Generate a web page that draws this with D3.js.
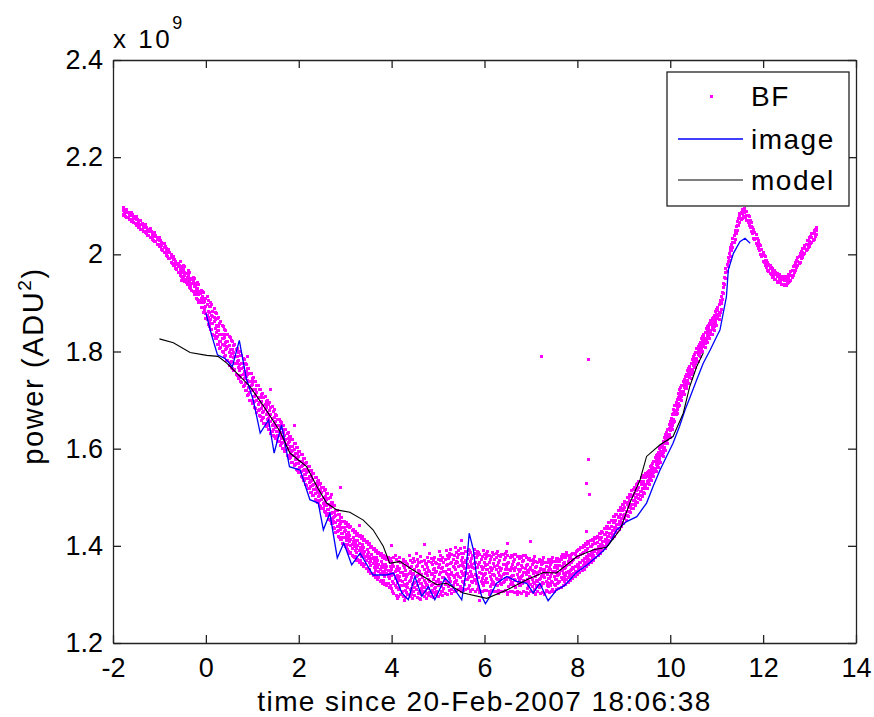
<!DOCTYPE html>
<html>
<head>
<meta charset="utf-8">
<script src="https://cdn.jsdelivr.net/npm/d3@7"></script>
<style>
  body { margin: 0; background: #fff; }
  svg { display: block; font-family: "Liberation Sans", Arial, Helvetica, sans-serif; }
  .axis text { font-size: 27px; fill: #000; }
  .axis path, .axis line { stroke: #222; stroke-width: 1.3; }
</style>
</head>
<body>
<svg width="874" height="717"></svg>
<script>
// power values are in units of 1e9 ADU^2, time in hours

var xTicks = [-2, 0, 2, 4, 6, 8, 10, 12, 14];
var yTicks = [1.2, 1.4, 1.6, 1.8, 2, 2.2, 2.4];
var yTickLabels = ["1.2", "1.4", "1.6", "1.8", "2", "2.2", "2.4"];
var legendNames = ["BF", "image", "model"];

// BF: each row is [time, power, power, ...]
var bfRows = [
  [-1.78, 2.080, 2.090, 2.097], [-1.75, 2.093, 2.083, 2.088], [-1.70, 2.075, 2.086, 2.092],
  [-1.65, 2.084, 2.071, 2.079], [-1.60, 2.068, 2.080, 2.086], [-1.55, 2.078, 2.066, 2.073],
  [-1.50, 2.060, 2.071, 2.077], [-1.45, 2.069, 2.056, 2.064], [-1.40, 2.052, 2.062, 2.069],
  [-1.35, 2.061, 2.048, 2.057], [-1.30, 2.044, 2.055, 2.062], [-1.25, 2.052, 2.039, 2.048],
  [-1.20, 2.035, 2.046, 2.053], [-1.15, 2.044, 2.031, 2.040], [-1.10, 2.026, 2.037, 2.044],
  [-1.05, 2.035, 2.021, 2.030], [-1.00, 2.017, 2.028, 2.035], [-0.95, 2.025, 2.010, 2.018],
  [-0.90, 2.004, 2.015, 2.022], [-0.85, 2.013, 1.998, 2.008], [-0.80, 1.991, 2.003, 2.010],
  [-0.75, 1.999, 1.984, 1.994], [-0.70, 1.977, 1.989, 1.996], [-0.65, 1.985, 1.970, 1.980],
  [-0.60, 1.963, 1.975, 1.982], [-0.55, 1.974, 1.957, 1.968, 1.985], [-0.50, 1.950, 1.963, 1.971],
  [-0.45, 1.962, 1.944, 1.957, 1.975], [-0.40, 1.938, 1.952, 1.961], [-0.35, 1.951, 1.931, 1.945, 1.962],
  [-0.30, 1.925, 1.940, 1.950], [-0.25, 1.938, 1.918, 1.933, 1.950], [-0.20, 1.910, 1.927, 1.940],
  [-0.15, 1.924, 1.900, 1.917, 1.937], [-0.10, 1.890, 1.910, 1.925], [-0.05, 1.908, 1.880, 1.900, 1.922],
  [0.00, 1.868, 1.892, 1.910, 1.878], [0.05, 1.855, 1.883, 1.905, 1.870], [0.10, 1.893, 1.845, 1.866, 1.900],
  [0.15, 1.835, 1.858, 1.882, 1.872], [0.20, 1.880, 1.826, 1.848, 1.865], [0.25, 1.815, 1.843, 1.868, 1.830],
  [0.30, 1.858, 1.806, 1.835, 1.820], [0.35, 1.800, 1.826, 1.853, 1.815], [0.40, 1.845, 1.790, 1.812, 1.828],
  [0.45, 1.782, 1.806, 1.835, 1.820], [0.50, 1.830, 1.772, 1.798, 1.812], [0.55, 1.768, 1.795, 1.823, 1.780],
  [0.60, 1.812, 1.760, 1.788, 1.798], [0.65, 1.752, 1.775, 1.805, 1.790], [0.70, 1.798, 1.745, 1.768, 1.782],
  [0.75, 1.738, 1.765, 1.792, 1.750], [0.80, 1.785, 1.728, 1.752, 1.768], [0.85, 1.720, 1.748, 1.775, 1.735],
  [0.90, 1.765, 1.710, 1.740, 1.752], [0.95, 1.700, 1.725, 1.755, 1.715], [1.00, 1.745, 1.692, 1.720, 1.732],
  [1.05, 1.685, 1.708, 1.738, 1.698], [1.10, 1.730, 1.675, 1.700, 1.715], [1.15, 1.668, 1.695, 1.722, 1.680],
  [1.20, 1.712, 1.658, 1.683, 1.698], [1.25, 1.652, 1.676, 1.705, 1.665], [1.30, 1.698, 1.645, 1.670, 1.684],
  [1.35, 1.640, 1.662, 1.690, 1.652], [1.40, 1.685, 1.632, 1.656, 1.670], [1.45, 1.627, 1.650, 1.676, 1.640],
  [1.50, 1.670, 1.620, 1.643, 1.656], [1.55, 1.615, 1.635, 1.660, 1.628], [1.60, 1.655, 1.607, 1.628, 1.642],
  [1.65, 1.600, 1.622, 1.648, 1.612], [1.70, 1.640, 1.594, 1.615, 1.628], [1.75, 1.586, 1.608, 1.632, 1.598],
  [1.80, 1.626, 1.580, 1.600, 1.614], [1.85, 1.572, 1.594, 1.618, 1.585], [1.90, 1.610, 1.565, 1.586, 1.598],
  [1.95, 1.557, 1.578, 1.602, 1.570], [2.00, 1.595, 1.550, 1.570, 1.584], [2.05, 1.542, 1.563, 1.587, 1.554],
  [2.10, 1.580, 1.534, 1.555, 1.567], [2.15, 1.526, 1.546, 1.570, 1.538], [2.20, 1.563, 1.518, 1.538, 1.552],
  [2.25, 1.510, 1.532, 1.555, 1.522], [2.30, 1.548, 1.503, 1.524, 1.537], [2.35, 1.496, 1.516, 1.540, 1.508],
  [2.40, 1.533, 1.489, 1.510, 1.522], [2.45, 1.482, 1.503, 1.527, 1.494], [2.50, 1.520, 1.476, 1.496, 1.510],
  [2.55, 1.470, 1.490, 1.513, 1.482], [2.60, 1.508, 1.463, 1.483, 1.496], [2.65, 1.455, 1.475, 1.498, 1.466],
  [2.70, 1.490, 1.446, 1.467, 1.480], [2.75, 1.438, 1.458, 1.482, 1.450], [2.80, 1.473, 1.428, 1.449, 1.462],
  [2.85, 1.420, 1.440, 1.465, 1.432], [2.90, 1.458, 1.413, 1.434, 1.446], [2.95, 1.405, 1.425, 1.450, 1.418],
  [3.00, 1.445, 1.398, 1.418, 1.432], [3.05, 1.392, 1.413, 1.440, 1.402], [3.10, 1.438, 1.385, 1.408, 1.422],
  [3.15, 1.380, 1.403, 1.432, 1.395], [3.20, 1.428, 1.375, 1.398, 1.412], [3.25, 1.370, 1.394, 1.422, 1.386],
  [3.30, 1.420, 1.366, 1.390, 1.404], [3.35, 1.362, 1.386, 1.415, 1.378], [3.40, 1.412, 1.358, 1.383, 1.397],
  [3.45, 1.353, 1.378, 1.406, 1.370], [3.50, 1.402, 1.348, 1.373, 1.387], [3.55, 1.343, 1.368, 1.396, 1.360],
  [3.60, 1.392, 1.338, 1.363, 1.377], [3.65, 1.335, 1.359, 1.388, 1.350], [3.70, 1.384, 1.330, 1.355, 1.369],
  [3.75, 1.327, 1.352, 1.380, 1.343], [3.80, 1.377, 1.323, 1.348, 1.362], [3.85, 1.320, 1.345, 1.373, 1.337],
  [3.90, 1.372, 1.318, 1.343, 1.357], [3.95, 1.315, 1.340, 1.368, 1.332], [4.00, 1.367, 1.312, 1.338, 1.352],
  [4.05, 1.302, 1.322, 1.342, 1.358, 1.376], [4.10, 1.372, 1.315, 1.336, 1.298, 1.352],
  [4.15, 1.310, 1.330, 1.350, 1.368, 1.296], [4.20, 1.365, 1.300, 1.328, 1.345, 1.318],
  [4.25, 1.295, 1.318, 1.338, 1.360, 1.372], [4.30, 1.368, 1.308, 1.330, 1.350, 1.294],
  [4.35, 1.300, 1.322, 1.342, 1.362, 1.315], [4.40, 1.370, 1.295, 1.328, 1.348, 1.310],
  [4.45, 1.305, 1.320, 1.340, 1.365, 1.292], [4.50, 1.368, 1.298, 1.325, 1.352, 1.314],
  [4.55, 1.294, 1.318, 1.338, 1.360, 1.372], [4.60, 1.365, 1.305, 1.330, 1.348, 1.292],
  [4.65, 1.300, 1.322, 1.342, 1.368, 1.312], [4.70, 1.370, 1.296, 1.328, 1.352, 1.315],
  [4.75, 1.302, 1.320, 1.345, 1.362, 1.292], [4.80, 1.368, 1.298, 1.330, 1.350, 1.312],
  [4.85, 1.295, 1.318, 1.340, 1.366, 1.374], [4.90, 1.370, 1.303, 1.330, 1.352, 1.294],
  [4.95, 1.300, 1.322, 1.345, 1.365, 1.314], [5.00, 1.372, 1.296, 1.330, 1.355, 1.318],
  [5.05, 1.300, 1.325, 1.345, 1.370, 1.380], [5.10, 1.375, 1.305, 1.335, 1.356, 1.298],
  [5.15, 1.302, 1.328, 1.348, 1.372, 1.320], [5.20, 1.380, 1.300, 1.340, 1.362, 1.325],
  [5.25, 1.308, 1.332, 1.352, 1.378, 1.385], [5.30, 1.382, 1.310, 1.345, 1.365, 1.302],
  [5.35, 1.305, 1.335, 1.356, 1.380, 1.325], [5.40, 1.386, 1.308, 1.342, 1.368, 1.328],
  [5.45, 1.310, 1.336, 1.358, 1.382, 1.390], [5.50, 1.385, 1.312, 1.348, 1.370, 1.305],
  [5.55, 1.308, 1.338, 1.358, 1.384, 1.325], [5.60, 1.388, 1.310, 1.345, 1.370, 1.330],
  [5.65, 1.312, 1.335, 1.356, 1.382, 1.392], [5.70, 1.386, 1.308, 1.348, 1.368, 1.306],
  [5.75, 1.310, 1.336, 1.355, 1.380, 1.325], [5.80, 1.384, 1.306, 1.342, 1.366, 1.328],
  [5.85, 1.310, 1.335, 1.355, 1.380, 1.388], [5.90, 1.382, 1.308, 1.345, 1.366, 1.303],
  [5.95, 1.306, 1.332, 1.352, 1.378, 1.322], [6.00, 1.382, 1.308, 1.340, 1.365, 1.325],
  [6.05, 1.308, 1.332, 1.352, 1.378, 1.385], [6.10, 1.380, 1.306, 1.345, 1.365, 1.300],
  [6.15, 1.308, 1.330, 1.350, 1.378, 1.320], [6.20, 1.382, 1.305, 1.340, 1.364, 1.325],
  [6.25, 1.306, 1.333, 1.352, 1.376, 1.384], [6.30, 1.380, 1.308, 1.345, 1.365, 1.302],
  [6.35, 1.305, 1.330, 1.350, 1.378, 1.322], [6.40, 1.382, 1.306, 1.340, 1.362, 1.325],
  [6.45, 1.308, 1.332, 1.352, 1.375, 1.384], [6.50, 1.380, 1.304, 1.344, 1.364, 1.300],
  [6.55, 1.306, 1.330, 1.350, 1.376, 1.320], [6.60, 1.378, 1.305, 1.338, 1.362, 1.324],
  [6.65, 1.304, 1.330, 1.350, 1.372, 1.382], [6.70, 1.378, 1.306, 1.342, 1.362, 1.300],
  [6.75, 1.304, 1.328, 1.348, 1.374, 1.318], [6.80, 1.376, 1.302, 1.336, 1.360, 1.322],
  [6.85, 1.305, 1.328, 1.346, 1.370, 1.380], [6.90, 1.375, 1.303, 1.340, 1.360, 1.298],
  [6.95, 1.302, 1.326, 1.345, 1.372, 1.316], [7.00, 1.370, 1.305, 1.335, 1.356, 1.320],
  [7.05, 1.304, 1.325, 1.343, 1.366, 1.372], [7.10, 1.368, 1.302, 1.336, 1.355, 1.300],
  [7.15, 1.305, 1.326, 1.342, 1.365, 1.318], [7.20, 1.368, 1.302, 1.333, 1.354, 1.320],
  [7.25, 1.303, 1.324, 1.342, 1.364, 1.370], [7.30, 1.366, 1.302, 1.335, 1.352, 1.300],
  [7.35, 1.305, 1.325, 1.342, 1.365, 1.318], [7.40, 1.368, 1.303, 1.333, 1.355, 1.322],
  [7.45, 1.306, 1.326, 1.344, 1.366, 1.372], [7.50, 1.368, 1.305, 1.336, 1.356, 1.320],
  [7.55, 1.310, 1.330, 1.346, 1.368, 1.374], [7.60, 1.372, 1.312, 1.340, 1.360, 1.325],
  [7.65, 1.315, 1.334, 1.350, 1.372, 1.378], [7.70, 1.376, 1.318, 1.344, 1.364, 1.330],
  [7.75, 1.320, 1.338, 1.355, 1.376, 1.382], [7.80, 1.380, 1.324, 1.348, 1.368, 1.335],
  [7.85, 1.328, 1.350, 1.376, 1.342], [7.90, 1.384, 1.332, 1.356, 1.370], [7.95, 1.336, 1.358, 1.382, 1.348],
  [8.00, 1.390, 1.340, 1.362, 1.376], [8.05, 1.345, 1.366, 1.392, 1.356], [8.10, 1.396, 1.350, 1.370, 1.384],
  [8.15, 1.352, 1.374, 1.398, 1.365], [8.20, 1.402, 1.358, 1.378, 1.390], [8.25, 1.362, 1.382, 1.404, 1.372],
  [8.30, 1.410, 1.366, 1.386, 1.398], [8.35, 1.370, 1.390, 1.412, 1.380], [8.40, 1.416, 1.375, 1.393, 1.405],
  [8.45, 1.380, 1.398, 1.418, 1.390], [8.50, 1.425, 1.385, 1.403, 1.414], [8.55, 1.390, 1.408, 1.428, 1.400],
  [8.60, 1.435, 1.395, 1.413, 1.424], [8.65, 1.402, 1.420, 1.440, 1.410], [8.70, 1.448, 1.408, 1.426, 1.436],
  [8.75, 1.415, 1.432, 1.452, 1.424], [8.80, 1.460, 1.420, 1.438, 1.448], [8.85, 1.427, 1.444, 1.464, 1.436],
  [8.90, 1.472, 1.433, 1.450, 1.460], [8.95, 1.440, 1.457, 1.477, 1.449], [9.00, 1.485, 1.446, 1.463, 1.474],
  [9.05, 1.453, 1.470, 1.490, 1.462], [9.10, 1.500, 1.461, 1.478, 1.488], [9.15, 1.468, 1.486, 1.506, 1.478],
  [9.20, 1.515, 1.476, 1.493, 1.503], [9.25, 1.482, 1.499, 1.519, 1.491], [9.30, 1.528, 1.489, 1.506, 1.516],
  [9.35, 1.495, 1.512, 1.532, 1.504], [9.40, 1.540, 1.501, 1.518, 1.528], [9.45, 1.508, 1.525, 1.545, 1.517],
  [9.50, 1.551, 1.519, 1.533, 1.542], [9.55, 1.526, 1.540, 1.556, 1.534], [9.60, 1.566, 1.534, 1.548, 1.557],
  [9.65, 1.543, 1.557, 1.573, 1.551], [9.70, 1.585, 1.553, 1.567, 1.576], [9.75, 1.562, 1.576, 1.592, 1.570],
  [9.80, 1.604, 1.572, 1.586, 1.595], [9.85, 1.584, 1.598, 1.614, 1.592], [9.90, 1.629, 1.597, 1.611, 1.620],
  [9.95, 1.610, 1.624, 1.640, 1.618], [10.00, 1.656, 1.624, 1.638, 1.647], [10.05, 1.640, 1.654, 1.670, 1.648],
  [10.10, 1.688, 1.656, 1.670, 1.679], [10.15, 1.672, 1.686, 1.702, 1.680], [10.20, 1.721, 1.689, 1.703, 1.712],
  [10.25, 1.700, 1.714, 1.730, 1.708], [10.30, 1.743, 1.711, 1.725, 1.734], [10.35, 1.723, 1.737, 1.753, 1.731],
  [10.40, 1.766, 1.734, 1.748, 1.757], [10.45, 1.745, 1.759, 1.775, 1.753], [10.50, 1.789, 1.757, 1.771, 1.780],
  [10.55, 1.768, 1.782, 1.798, 1.776], [10.60, 1.811, 1.779, 1.793, 1.802], [10.65, 1.789, 1.803, 1.819, 1.797],
  [10.70, 1.831, 1.799, 1.813, 1.822], [10.75, 1.809, 1.823, 1.839, 1.817], [10.80, 1.851, 1.819, 1.833, 1.842],
  [10.85, 1.827, 1.841, 1.857, 1.835], [10.90, 1.867, 1.835, 1.849, 1.858], [10.95, 1.844, 1.858, 1.874, 1.852],
  [11.00, 1.886, 1.854, 1.868, 1.877], [11.05, 1.866, 1.880, 1.896, 1.874], [11.10, 1.914, 1.886, 1.898, 1.906],
  [11.15, 1.920, 1.932, 1.940], [11.20, 1.970, 1.950, 1.962], [11.25, 1.975, 1.986, 1.994],
  [11.30, 2.014, 1.996, 2.007], [11.35, 2.015, 2.025, 2.033], [11.40, 2.049, 2.031, 2.042],
  [11.45, 2.050, 2.060, 2.068], [11.50, 2.084, 2.066, 2.077], [11.55, 2.074, 2.085, 2.092],
  [11.60, 2.094, 2.076, 2.087], [11.65, 2.070, 2.080, 2.088], [11.70, 2.077, 2.059, 2.070],
  [11.75, 2.047, 2.057, 2.065], [11.80, 2.051, 2.033, 2.044], [11.85, 2.023, 2.033, 2.041],
  [11.90, 2.029, 2.011, 2.022], [11.95, 2.000, 2.010, 2.018], [12.00, 2.004, 1.986, 1.997],
  [12.05, 1.977, 1.987, 1.995], [12.10, 1.984, 1.966, 1.977], [12.15, 1.960, 1.970, 1.978],
  [12.20, 1.971, 1.953, 1.964], [12.25, 1.949, 1.959, 1.967], [12.30, 1.961, 1.943, 1.954],
  [12.35, 1.941, 1.951, 1.959], [12.40, 1.955, 1.937, 1.948], [12.45, 1.936, 1.946, 1.954],
  [12.50, 1.954, 1.936, 1.947], [12.55, 1.941, 1.951, 1.959], [12.60, 1.964, 1.946, 1.957],
  [12.65, 1.956, 1.966, 1.974], [12.70, 1.984, 1.966, 1.977], [12.75, 1.976, 1.986, 1.994],
  [12.80, 2.002, 1.984, 1.995], [12.85, 1.994, 2.004, 2.012], [12.90, 2.019, 2.001, 2.012],
  [12.95, 2.010, 2.020, 2.028], [13.00, 2.034, 2.016, 2.027], [13.05, 2.024, 2.034, 2.042],
  [13.10, 2.049, 2.031, 2.042], [13.15, 2.040, 2.050, 2.056],
  // stray points
  [7.22, 1.789], [8.24, 1.784, 1.577], [8.20, 1.529, 1.429], [8.27, 1.505]
];

// BF samples in between the rows above
var bfRowsB = [
  [-1.775, 2.082, 2.095], [-1.725, 2.091, 2.078], [-1.675, 2.076, 2.087], [-1.625, 2.085, 2.072],
  [-1.575, 2.069, 2.081], [-1.525, 2.076, 2.063], [-1.475, 2.060, 2.071], [-1.425, 2.069, 2.055],
  [-1.375, 2.052, 2.064], [-1.325, 2.060, 2.047], [-1.275, 2.043, 2.055], [-1.225, 2.051, 2.038],
  [-1.175, 2.035, 2.047], [-1.125, 2.043, 2.029], [-1.075, 2.026, 2.038], [-1.025, 2.033, 2.020],
  [-0.975, 2.016, 2.029], [-0.925, 2.022, 2.008], [-0.875, 2.004, 2.016], [-0.825, 2.010, 1.996],
  [-0.775, 1.991, 2.003], [-0.725, 1.996, 1.982], [-0.675, 1.976, 1.989], [-0.625, 1.982, 1.968],
  [-0.575, 1.963, 1.977], [-0.525, 1.955, 1.972, 1.946], [-0.475, 1.968, 1.950, 1.978],
  [-0.425, 1.942, 1.960, 1.949], [-0.375, 1.956, 1.937, 1.966], [-0.325, 1.930, 1.948, 1.936],
  [-0.275, 1.944, 1.924, 1.953], [-0.225, 1.917, 1.936, 1.922], [-0.175, 1.930, 1.908, 1.941],
  [-0.125, 1.900, 1.920, 1.905], [-0.075, 1.914, 1.891, 1.924], [-0.025, 1.882, 1.903, 1.888],
  [0.025, 1.866, 1.897, 1.913, 1.875], [0.075, 1.892, 1.851, 1.880, 1.861], [0.125, 1.846, 1.874, 1.896, 1.858],
  [0.175, 1.871, 1.833, 1.861, 1.889], [0.225, 1.826, 1.853, 1.878, 1.839], [0.275, 1.852, 1.815, 1.843, 1.869],
  [0.325, 1.808, 1.835, 1.861, 1.821], [0.375, 1.836, 1.797, 1.826, 1.851], [0.425, 1.792, 1.819, 1.844, 1.805],
  [0.475, 1.820, 1.781, 1.810, 1.836], [0.525, 1.777, 1.804, 1.829, 1.790], [0.575, 1.805, 1.766, 1.795, 1.821],
  [0.625, 1.762, 1.789, 1.814, 1.775], [0.675, 1.790, 1.751, 1.780, 1.806], [0.725, 1.747, 1.774, 1.799, 1.760],
  [0.775, 1.775, 1.736, 1.765, 1.791], [0.825, 1.731, 1.758, 1.783, 1.744], [0.875, 1.758, 1.719, 1.748, 1.774],
  [0.925, 1.712, 1.739, 1.764, 1.725], [0.975, 1.739, 1.700, 1.729, 1.755], [1.025, 1.694, 1.721, 1.746, 1.707],
  [1.075, 1.722, 1.683, 1.712, 1.738], [1.125, 1.678, 1.705, 1.730, 1.691], [1.175, 1.705, 1.666, 1.695, 1.721],
  [1.225, 1.662, 1.689, 1.714, 1.675], [1.275, 1.691, 1.652, 1.681, 1.707], [1.325, 1.648, 1.675, 1.700, 1.661],
  [1.375, 1.678, 1.639, 1.668, 1.694], [1.425, 1.635, 1.662, 1.687, 1.648], [1.475, 1.664, 1.625, 1.654, 1.680],
  [1.525, 1.624, 1.647, 1.668, 1.635], [1.575, 1.648, 1.614, 1.640, 1.661], [1.625, 1.610, 1.633, 1.654, 1.621],
  [1.675, 1.634, 1.600, 1.626, 1.647], [1.725, 1.596, 1.619, 1.640, 1.607], [1.775, 1.620, 1.586, 1.612, 1.633],
  [1.825, 1.582, 1.605, 1.626, 1.593], [1.875, 1.605, 1.571, 1.597, 1.618], [1.925, 1.567, 1.590, 1.611, 1.578],
  [1.975, 1.590, 1.556, 1.582, 1.603], [2.025, 1.551, 1.574, 1.595, 1.562], [2.075, 1.574, 1.540, 1.566, 1.587],
  [2.125, 1.535, 1.558, 1.579, 1.546], [2.175, 1.558, 1.524, 1.550, 1.571], [2.225, 1.519, 1.542, 1.563, 1.530],
  [2.275, 1.543, 1.509, 1.535, 1.556], [2.325, 1.504, 1.527, 1.548, 1.515], [2.375, 1.528, 1.494, 1.520, 1.541],
  [2.425, 1.490, 1.513, 1.534, 1.501], [2.475, 1.515, 1.481, 1.507, 1.528], [2.525, 1.477, 1.500, 1.521, 1.488],
  [2.575, 1.502, 1.468, 1.494, 1.515], [2.625, 1.463, 1.486, 1.507, 1.474], [2.675, 1.486, 1.452, 1.478, 1.499],
  [2.725, 1.446, 1.469, 1.490, 1.457], [2.775, 1.469, 1.435, 1.461, 1.482], [2.825, 1.429, 1.452, 1.473, 1.440],
  [2.875, 1.452, 1.418, 1.444, 1.465], [2.925, 1.414, 1.437, 1.458, 1.425], [2.975, 1.437, 1.403, 1.429, 1.450],
  [3.025, 1.397, 1.424, 1.449, 1.410], [3.075, 1.428, 1.389, 1.418, 1.444], [3.125, 1.387, 1.414, 1.439, 1.400],
  [3.175, 1.418, 1.379, 1.408, 1.434], [3.225, 1.378, 1.405, 1.430, 1.391], [3.275, 1.410, 1.371, 1.400, 1.426],
  [3.325, 1.370, 1.397, 1.422, 1.383], [3.375, 1.403, 1.364, 1.393, 1.419], [3.425, 1.362, 1.389, 1.414, 1.375],
  [3.475, 1.393, 1.354, 1.383, 1.409], [3.525, 1.352, 1.379, 1.404, 1.365], [3.575, 1.383, 1.344, 1.373, 1.399],
  [3.625, 1.343, 1.370, 1.395, 1.356], [3.675, 1.375, 1.336, 1.365, 1.391], [3.725, 1.335, 1.362, 1.387, 1.348],
  [3.775, 1.368, 1.329, 1.358, 1.384], [3.825, 1.328, 1.355, 1.380, 1.341], [3.875, 1.362, 1.323, 1.352, 1.378],
  [3.925, 1.323, 1.350, 1.375, 1.336], [3.975, 1.357, 1.318, 1.347, 1.373],
  [4.025, 1.327, 1.361, 1.305, 1.343], [4.075, 1.318, 1.347, 1.381, 1.333], [4.125, 1.292, 1.339, 1.357, 1.325],
  [4.175, 1.354, 1.313, 1.377, 1.336], [4.225, 1.306, 1.345, 1.327, 1.366], [4.275, 1.341, 1.288, 1.356, 1.321],
  [4.325, 1.317, 1.364, 1.337, 1.303], [4.375, 1.356, 1.326, 1.381, 1.344], [4.425, 1.299, 1.335, 1.312, 1.358],
  [4.475, 1.344, 1.373, 1.323, 1.306], [4.525, 1.311, 1.357, 1.336, 1.384], [4.575, 1.349, 1.302, 1.327, 1.366],
  [4.625, 1.323, 1.378, 1.341, 1.289], [4.675, 1.357, 1.316, 1.334, 1.306], [4.725, 1.307, 1.344, 1.363, 1.325],
  [4.775, 1.338, 1.376, 1.318, 1.356], [4.825, 1.326, 1.303, 1.347, 1.385], [4.875, 1.361, 1.321, 1.343, 1.308],
  [4.925, 1.313, 1.353, 1.336, 1.377], [4.975, 1.347, 1.307, 1.326, 1.363], [5.025, 1.324, 1.361, 1.341, 1.389],
  [5.075, 1.353, 1.317, 1.372, 1.306], [5.125, 1.334, 1.366, 1.313, 1.347], [5.175, 1.359, 1.327, 1.391, 1.343],
  [5.225, 1.317, 1.351, 1.336, 1.373], [5.275, 1.364, 1.327, 1.393, 1.341], [5.325, 1.338, 1.371, 1.318, 1.357],
  [5.375, 1.352, 1.327, 1.396, 1.363], [5.425, 1.321, 1.366, 1.343, 1.377], [5.475, 1.359, 1.334, 1.395, 1.316],
  [5.525, 1.343, 1.376, 1.327, 1.363], [5.575, 1.366, 1.321, 1.353, 1.397], [5.625, 1.331, 1.361, 1.343, 1.374],
  [5.675, 1.357, 1.318, 1.391, 1.337], [5.725, 1.341, 1.373, 1.327, 1.362], [5.775, 1.363, 1.331, 1.353, 1.393],
  [5.825, 1.323, 1.356, 1.339, 1.376], [5.875, 1.361, 1.334, 1.387, 1.317], [5.925, 1.343, 1.372, 1.326, 1.357],
  [5.975, 1.355, 1.319, 1.391, 1.338], [6.025, 1.329, 1.359, 1.343, 1.373], [6.075, 1.361, 1.324, 1.351, 1.389],
  [6.125, 1.336, 1.371, 1.317, 1.355], [6.175, 1.353, 1.327, 1.386, 1.341], [6.225, 1.321, 1.357, 1.339, 1.371],
  [6.275, 1.359, 1.331, 1.389, 1.318], [6.325, 1.338, 1.369, 1.326, 1.356], [6.375, 1.353, 1.321, 1.383, 1.337],
  [6.425, 1.327, 1.361, 1.343, 1.371], [6.475, 1.357, 1.331, 1.353, 1.388], [6.525, 1.334, 1.366, 1.316, 1.351],
  [6.575, 1.355, 1.324, 1.381, 1.337], [6.625, 1.318, 1.353, 1.338, 1.368], [6.675, 1.356, 1.328, 1.383, 1.315],
  [6.725, 1.335, 1.364, 1.322, 1.352], [6.775, 1.351, 1.318, 1.378, 1.333], [6.825, 1.323, 1.356, 1.339, 1.367],
  [6.875, 1.353, 1.326, 1.346, 1.381], [6.925, 1.331, 1.362, 1.313, 1.349], [6.975, 1.351, 1.321, 1.374, 1.336],
  [7.025, 1.316, 1.349, 1.331, 1.361], [7.075, 1.347, 1.322, 1.378, 1.311], [7.125, 1.329, 1.357, 1.316, 1.345],
  [7.175, 1.348, 1.314, 1.371, 1.331], [7.225, 1.319, 1.351, 1.336, 1.362], [7.275, 1.346, 1.323, 1.341, 1.376],
  [7.325, 1.327, 1.357, 1.309, 1.345], [7.375, 1.349, 1.316, 1.371, 1.333], [7.425, 1.319, 1.351, 1.336, 1.361],
  [7.475, 1.347, 1.324, 1.376, 1.311], [7.525, 1.331, 1.359, 1.318, 1.348], [7.575, 1.353, 1.322, 1.373, 1.338],
  [7.625, 1.327, 1.359, 1.343, 1.367], [7.675, 1.357, 1.331, 1.349, 1.382], [7.725, 1.336, 1.365, 1.326, 1.353],
  [7.775, 1.359, 1.331, 1.387, 1.345], [7.825, 1.337, 1.361, 1.343, 1.374], [7.875, 1.366, 1.339, 1.383, 1.351],
  [7.925, 1.344, 1.371, 1.353, 1.385], [7.975, 1.375, 1.347, 1.389, 1.358], [8.025, 1.352, 1.379, 1.361, 1.393],
  [8.075, 1.383, 1.355, 1.397, 1.366], [8.125, 1.360, 1.387, 1.369, 1.401], [8.175, 1.390, 1.362, 1.404, 1.373],
  [8.225, 1.367, 1.394, 1.376, 1.408], [8.275, 1.398, 1.370, 1.412, 1.381], [8.325, 1.375, 1.402, 1.384, 1.414],
  [8.375, 1.405, 1.377, 1.418, 1.388], [8.425, 1.385, 1.407, 1.393, 1.420], [8.475, 1.413, 1.389, 1.426, 1.398],
  [8.525, 1.395, 1.417, 1.403, 1.430], [8.575, 1.423, 1.399, 1.436, 1.408], [8.625, 1.405, 1.427, 1.413, 1.440],
  [8.675, 1.435, 1.411, 1.448, 1.420], [8.725, 1.418, 1.440, 1.426, 1.453], [8.775, 1.447, 1.423, 1.460, 1.432],
  [8.825, 1.430, 1.452, 1.438, 1.465], [8.875, 1.459, 1.435, 1.472, 1.444], [8.925, 1.443, 1.465, 1.451, 1.478],
  [8.975, 1.472, 1.448, 1.485, 1.457], [9.025, 1.456, 1.478, 1.464, 1.491], [9.075, 1.486, 1.462, 1.499, 1.471],
  [9.125, 1.471, 1.493, 1.479, 1.506], [9.175, 1.501, 1.477, 1.514, 1.486], [9.225, 1.485, 1.507, 1.493, 1.520],
  [9.275, 1.514, 1.490, 1.527, 1.499], [9.325, 1.498, 1.520, 1.506, 1.533], [9.375, 1.527, 1.503, 1.540, 1.512],
  [9.425, 1.510, 1.532, 1.518, 1.545], [9.475, 1.540, 1.521, 1.548, 1.527], [9.525, 1.529, 1.546, 1.534, 1.553],
  [9.575, 1.555, 1.536, 1.563, 1.542], [9.625, 1.545, 1.562, 1.550, 1.569], [9.675, 1.573, 1.554, 1.581, 1.560],
  [9.725, 1.564, 1.581, 1.569, 1.588], [9.775, 1.592, 1.573, 1.600, 1.579], [9.825, 1.585, 1.602, 1.590, 1.609],
  [9.875, 1.615, 1.596, 1.623, 1.602], [9.925, 1.610, 1.627, 1.615, 1.634], [9.975, 1.642, 1.623, 1.650, 1.629],
  [10.025, 1.639, 1.656, 1.644, 1.663], [10.075, 1.673, 1.654, 1.681, 1.660], [10.125, 1.671, 1.688, 1.676, 1.695],
  [10.175, 1.705, 1.686, 1.713, 1.692], [10.225, 1.701, 1.718, 1.706, 1.725], [10.275, 1.730, 1.711, 1.738, 1.717],
  [10.325, 1.724, 1.741, 1.729, 1.748], [10.375, 1.753, 1.734, 1.761, 1.740], [10.425, 1.746, 1.763, 1.751, 1.770],
  [10.475, 1.776, 1.757, 1.784, 1.763], [10.525, 1.769, 1.786, 1.774, 1.793], [10.575, 1.798, 1.779, 1.806, 1.785],
  [10.625, 1.791, 1.808, 1.796, 1.815], [10.675, 1.819, 1.800, 1.827, 1.806], [10.725, 1.811, 1.828, 1.816, 1.835],
  [10.775, 1.839, 1.820, 1.847, 1.826], [10.825, 1.830, 1.847, 1.835, 1.854], [10.875, 1.856, 1.837, 1.864, 1.843],
  [10.925, 1.846, 1.863, 1.851, 1.870], [10.975, 1.874, 1.855, 1.882, 1.861], [11.025, 1.867, 1.884, 1.872, 1.891],
  [11.075, 1.900, 1.881, 1.906], [11.125, 1.908, 1.922], [11.175, 1.938, 1.952], [11.225, 1.965, 1.980],
  [11.275, 1.988, 2.002], [11.325, 2.007, 2.021], [11.375, 2.024, 2.038], [11.425, 2.042, 2.057],
  [11.475, 2.059, 2.074], [11.525, 2.071, 2.086], [11.575, 2.077, 2.091], [11.625, 2.075, 2.089],
  [11.675, 2.066, 2.080], [11.725, 2.055, 2.069], [11.775, 2.042, 2.056], [11.825, 2.030, 2.044],
  [11.875, 2.019, 2.033], [11.925, 2.007, 2.021], [11.975, 1.995, 2.009], [12.025, 1.983, 1.997],
  [12.075, 1.973, 1.987], [12.125, 1.965, 1.979], [12.175, 1.958, 1.972], [12.225, 1.953, 1.967],
  [12.275, 1.948, 1.962], [12.325, 1.944, 1.958], [12.375, 1.941, 1.955], [12.425, 1.938, 1.952],
  [12.475, 1.937, 1.951], [12.525, 1.940, 1.954], [12.575, 1.945, 1.959], [12.625, 1.953, 1.967],
  [12.675, 1.963, 1.977], [12.725, 1.973, 1.987], [12.775, 1.982, 1.996], [12.825, 1.991, 2.005],
  [12.875, 1.999, 2.013], [12.925, 2.007, 2.021], [12.975, 2.015, 2.029], [13.025, 2.022, 2.036],
  [13.075, 2.029, 2.043], [13.125, 2.037, 2.051],
  // loose points off the main band
  [0.9, 1.790], [1.4, 1.722], [1.9, 1.648], [2.7, 1.505], [2.9, 1.520], [3.3, 1.442],
  [4.0, 1.401], [4.7, 1.402], [5.5, 1.412], [6.5, 1.404], [7.0, 1.409], [5.9, 1.287]
];

var imageData = [
  [0.00, 1.879], [0.12, 1.835], [0.25, 1.793], [0.42, 1.785], [0.57, 1.769], [0.72, 1.823],
  [0.87, 1.745], [1.02, 1.700], [1.17, 1.632], [1.35, 1.659], [1.47, 1.591], [1.63, 1.649],
  [1.80, 1.563], [2.03, 1.556], [2.24, 1.495], [2.42, 1.488], [2.53, 1.433], [2.67, 1.467],
  [2.83, 1.375], [2.97, 1.406], [3.14, 1.361], [3.32, 1.385], [3.60, 1.340], [3.89, 1.340],
  [4.04, 1.344], [4.22, 1.303], [4.36, 1.289], [4.50, 1.337], [4.65, 1.296], [4.79, 1.316],
  [4.93, 1.289], [5.15, 1.334], [5.30, 1.318], [5.51, 1.289], [5.60, 1.344], [5.67, 1.426],
  [5.76, 1.392], [5.83, 1.337], [5.94, 1.296], [6.02, 1.281], [6.12, 1.296], [6.26, 1.323],
  [6.48, 1.337], [6.69, 1.327], [6.91, 1.323], [7.05, 1.303], [7.19, 1.323], [7.37, 1.287],
  [7.55, 1.309], [7.72, 1.318], [7.98, 1.345], [8.20, 1.360], [8.42, 1.378], [8.56, 1.390],
  [8.70, 1.406], [8.85, 1.433], [9.06, 1.450], [9.28, 1.460], [9.49, 1.488], [9.63, 1.522],
  [9.78, 1.556], [9.92, 1.584], [10.06, 1.611], [10.20, 1.646], [10.32, 1.680], [10.43, 1.707],
  [10.57, 1.742], [10.71, 1.776], [10.86, 1.803], [11.00, 1.831], [11.07, 1.844], [11.21, 1.913],
  [11.25, 1.968], [11.36, 2.002], [11.50, 2.026], [11.61, 2.033], [11.72, 2.023]
];

var modelData = [
  [-1.00, 1.826], [-0.70, 1.818], [-0.34, 1.798], [0.02, 1.792], [0.26, 1.790], [0.45, 1.776],
  [0.66, 1.756], [0.95, 1.728], [1.31, 1.678], [1.60, 1.635], [1.81, 1.591], [2.17, 1.563],
  [2.39, 1.522], [2.60, 1.488], [2.82, 1.474], [3.10, 1.469], [3.39, 1.453], [3.60, 1.433],
  [3.82, 1.399], [3.96, 1.364], [4.18, 1.368], [4.40, 1.354], [4.70, 1.336], [4.97, 1.320],
  [5.18, 1.323], [5.54, 1.303], [6.05, 1.292], [6.48, 1.309], [6.91, 1.330], [7.27, 1.345],
  [7.55, 1.344], [7.99, 1.378], [8.35, 1.392], [8.63, 1.397], [8.92, 1.433], [9.13, 1.488],
  [9.35, 1.536], [9.49, 1.584], [9.78, 1.608], [10.06, 1.625], [10.28, 1.673], [10.42, 1.728],
  [10.57, 1.769], [10.71, 1.797]
];

(function() {
var svg = d3.select("svg"),
    plotLeft = 113, plotRight = 856, plotTop = 60, plotBottom = 643;

var x = d3.scaleLinear().domain([-2, 14]).range([plotLeft, plotRight]);
var y = d3.scaleLinear().domain([1.2, 2.4]).range([plotBottom, plotTop]);

// flatten BF rows into points
var bfPoints = [];
bfRows.concat(bfRowsB).forEach(function(r) {
  for (var i = 1; i < r.length; i++) bfPoints.push([r[0], r[i]]);
});

var g = svg.append("g");

var dot = 3;
g.selectAll("rect.bf")
  .data(bfPoints)
  .enter().append("rect")
    .attr("class", "bf")
    .attr("x", function(d) { return Math.round(x(d[0]) - dot / 2); })
    .attr("y", function(d) { return Math.round(y(d[1]) - dot / 2); })
    .attr("width", dot)
    .attr("height", dot)
    .attr("shape-rendering", "crispEdges")
    .attr("fill", "#ff00ff");

var line = d3.line()
    .x(function(d) { return x(d[0]); })
    .y(function(d) { return y(d[1]); });

g.append("path")
  .datum(imageData)
  .attr("d", line)
  .attr("fill", "none")
  .attr("stroke", "#0000ff")
  .attr("stroke-width", 1.3);

g.append("path")
  .datum(modelData)
  .attr("d", line)
  .attr("fill", "none")
  .attr("stroke", "#000")
  .attr("stroke-width", 1.1);

// axes, matlab-style box with inward ticks
svg.append("g")
  .attr("class", "axis")
  .attr("transform", "translate(0," + plotBottom + ")")
  .call(d3.axisBottom(x).tickValues(xTicks).tickFormat(function(d) { return String(d); })
    .tickSizeInner(-8).tickSizeOuter(0).tickPadding(15));

svg.append("g")
  .attr("class", "axis")
  .attr("transform", "translate(0," + plotTop + ")")
  .call(d3.axisTop(x).tickValues(xTicks).tickFormat("").tickSizeInner(-8).tickSizeOuter(0));

svg.append("g")
  .attr("class", "axis")
  .attr("transform", "translate(" + plotLeft + ",0)")
  .call(d3.axisLeft(y).tickValues(yTicks).tickFormat(function(d, i) { return yTickLabels[i]; })
    .tickSizeInner(-8).tickSizeOuter(0).tickPadding(10));

svg.append("g")
  .attr("class", "axis")
  .attr("transform", "translate(" + plotRight + ",0)")
  .call(d3.axisRight(y).tickValues(yTicks).tickFormat("").tickSizeInner(-8).tickSizeOuter(0));

svg.selectAll(".axis").attr("font-family", null).attr("font-size", null);

// exponent
var expo = svg.append("text")
  .attr("x", plotLeft)
  .attr("y", 48)
  .attr("font-size", 26)
  .attr("letter-spacing", 2.5);
expo.append("tspan").text("x 10");
expo.append("tspan").attr("dy", -19).attr("font-size", 18).text("9");

// axis labels
svg.append("text")
  .attr("x", (plotLeft + plotRight) / 2)
  .attr("y", 711)
  .attr("text-anchor", "middle")
  .attr("font-size", 28)
  .attr("letter-spacing", 1.4)
  .text("time since 20-Feb-2007 18:06:38");

var ylab = svg.append("text")
  .attr("transform", "translate(43,366) rotate(-90)")
  .attr("text-anchor", "middle")
  .attr("font-size", 29)
  .attr("letter-spacing", 1.6);
ylab.append("tspan").text("power (ADU");
ylab.append("tspan").attr("dy", -12).attr("font-size", 19).text("2");
ylab.append("tspan").attr("dy", 12).text(")");

// legend
var leg = svg.append("g");
leg.append("rect")
  .attr("x", 667).attr("y", 72)
  .attr("width", 182).attr("height", 134)
  .attr("fill", "#fff")
  .attr("stroke", "#222")
  .attr("stroke-width", 1.3);

var legRowY = [96, 139, 180];
leg.append("rect")
  .attr("x", 710).attr("y", legRowY[0] - 1)
  .attr("width", 2.5).attr("height", 2.5)
  .attr("shape-rendering", "crispEdges")
  .attr("fill", "#ff00ff");
leg.append("line")
  .attr("x1", 678).attr("x2", 743)
  .attr("y1", legRowY[1]).attr("y2", legRowY[1])
  .attr("stroke", "#0000ff").attr("stroke-width", 1.3);
leg.append("line")
  .attr("x1", 678).attr("x2", 743)
  .attr("y1", legRowY[2]).attr("y2", legRowY[2])
  .attr("stroke", "#000").attr("stroke-width", 1.1);

leg.selectAll("text")
  .data(legendNames)
  .enter().append("text")
    .attr("x", 751)
    .attr("y", function(d, i) { return legRowY[i] + 10; })
    .attr("font-size", 28)
    .attr("letter-spacing", 1.5)
    .text(function(d) { return d; });
})();
</script>
</body>
</html>
